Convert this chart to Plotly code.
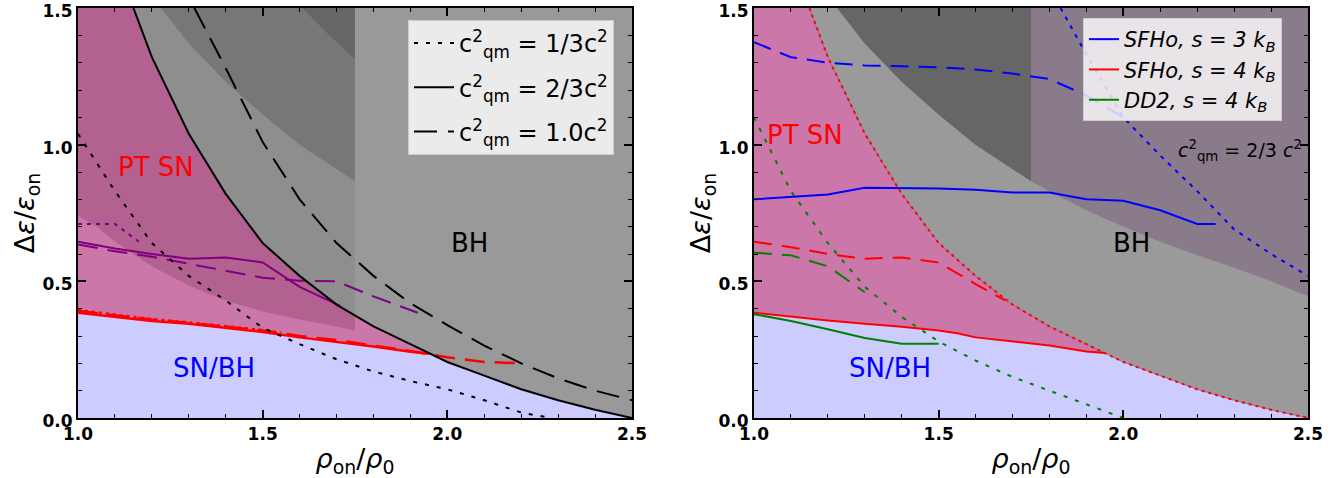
import plotly.graph_objects as go
import numpy as np

# ---------------- data ----------------
# BH boundaries for different quark-matter sound speeds
x_c13 = [1.0, 1.1, 1.2, 1.3, 1.4, 1.5, 1.6, 1.7, 1.8, 1.9, 2.0, 2.1, 2.2, 2.28]
y_c13 = [1.04, 0.83, 0.64, 0.52, 0.43, 0.33, 0.27, 0.215, 0.17, 0.135, 0.105, 0.065, 0.02, 0.0]
x_c23 = [1.15, 1.2, 1.3, 1.4, 1.5, 1.6, 1.7, 1.8, 1.9, 2.0, 2.1, 2.2, 2.3, 2.4, 2.5]
y_c23 = [1.5, 1.32, 1.04, 0.82, 0.64, 0.52, 0.415, 0.335, 0.27, 0.205, 0.155, 0.105, 0.065, 0.03, 0.0]
x_c10 = [1.315, 1.4, 1.5, 1.6, 1.7, 1.8, 1.9, 2.0, 2.1, 2.2, 2.3, 2.4, 2.5]
y_c10 = [1.5, 1.28, 1.01, 0.80, 0.64, 0.52, 0.42, 0.34, 0.265, 0.20, 0.145, 0.10, 0.065]

# shaded-region boundaries
x_ovl = [1.0, 1.05, 1.1, 1.2, 1.3, 1.4, 1.5, 1.6, 1.7, 1.75]
y_ovl = [0.74, 0.70, 0.645, 0.555, 0.485, 0.43, 0.39, 0.36, 0.335, 0.32]
x_band = [1.225, 1.3, 1.4, 1.5, 1.6, 1.7, 1.75, 1.8, 1.9, 2.0, 2.1, 2.2, 2.3, 2.4, 2.5]
y_band = [1.5, 1.37, 1.23, 1.11, 1.0, 0.91, 0.866, 0.83, 0.76, 0.70, 0.645, 0.595, 0.55, 0.50, 0.445]
x_dark = [1.607, 1.68, 1.75]
y_dark = [1.5, 1.40, 1.313]
X_CUT = 1.75

# left panel: SFHo lines
xl_red_solid = [1.0, 1.1, 1.2, 1.3, 1.4, 1.5, 1.6, 1.7, 1.8, 1.9, 1.95]
yl_red_solid = [0.385, 0.37, 0.355, 0.345, 0.33, 0.315, 0.295, 0.278, 0.262, 0.242, 0.235]
xl_red_dash = [1.0, 1.1, 1.2, 1.3, 1.4, 1.5, 1.6, 1.7, 1.8, 1.9, 2.0, 2.1, 2.2]
yl_red_dash = [0.392, 0.375, 0.36, 0.348, 0.335, 0.32, 0.30, 0.285, 0.265, 0.245, 0.222, 0.205, 0.20]
xl_red_dot = [1.0, 1.1, 1.2, 1.3, 1.4, 1.5, 1.55]
yl_red_dot = [0.395, 0.378, 0.362, 0.35, 0.337, 0.322, 0.312]
xl_pur_solid = [1.0, 1.1, 1.2, 1.3, 1.4, 1.5, 1.6, 1.71]
yl_pur_solid = [0.645, 0.62, 0.60, 0.583, 0.587, 0.569, 0.48, 0.41]
xl_pur_dash = [1.0, 1.1, 1.2, 1.3, 1.4, 1.5, 1.6, 1.7, 1.8, 1.9, 1.92]
yl_pur_dash = [0.635, 0.61, 0.59, 0.565, 0.54, 0.513, 0.502, 0.50, 0.445, 0.395, 0.385]
xl_pur_dot = [1.0, 1.1, 1.17]
yl_pur_dot = [0.71, 0.71, 0.64]

# right panel
xr_red_solid = [1.0, 1.1, 1.2, 1.3, 1.4, 1.5, 1.55, 1.6, 1.7, 1.8, 1.9, 1.95]
yr_red_solid = [0.385, 0.37, 0.357, 0.345, 0.334, 0.32, 0.31, 0.295, 0.28, 0.265, 0.243, 0.238]
xr_red_dash = [1.0, 1.1, 1.2, 1.3, 1.4, 1.5, 1.6, 1.68]
yr_red_dash = [0.645, 0.625, 0.60, 0.583, 0.587, 0.569, 0.49, 0.43]
xr_blue_solid = [1.0, 1.1, 1.2, 1.3, 1.4, 1.5, 1.6, 1.7, 1.8, 1.9, 2.0, 2.1, 2.2, 2.25]
yr_blue_solid = [0.80, 0.81, 0.818, 0.842, 0.842, 0.84, 0.835, 0.825, 0.825, 0.80, 0.795, 0.76, 0.71, 0.71]
xr_blue_dash = [1.0, 1.1, 1.2, 1.3, 1.4, 1.5, 1.6, 1.7, 1.8, 1.9, 2.0]
yr_blue_dash = [1.375, 1.32, 1.30, 1.29, 1.287, 1.283, 1.275, 1.26, 1.24, 1.18, 1.10]
xr_blue_dot = [1.83, 1.9, 2.0, 2.1, 2.2, 2.3, 2.4, 2.5]
yr_blue_dot = [1.5, 1.33, 1.10, 0.96, 0.83, 0.69, 0.60, 0.52]
xr_green_solid = [1.0, 1.1, 1.2, 1.3, 1.4, 1.5]
yr_green_solid = [0.38, 0.355, 0.325, 0.293, 0.272, 0.272]
xr_green_dash = [1.0, 1.1, 1.2, 1.3]
yr_green_dash = [0.605, 0.595, 0.555, 0.46]
xr_green_dot = [1.0, 1.1, 1.2, 1.3, 1.4, 1.5, 1.6, 1.7, 1.8, 1.9, 2.0]
yr_green_dot = [1.10, 0.83, 0.64, 0.48, 0.37, 0.28, 0.21, 0.15, 0.10, 0.05, 0.0]

legend_left = ["c<sup>2</sup><sub>qm</sub> = 1/3c<sup>2</sup>",
               "c<sup>2</sup><sub>qm</sub> = 2/3c<sup>2</sup>",
               "c<sup>2</sup><sub>qm</sub> = 1.0c<sup>2</sup>"]
legend_right = ["SFHo, s = 3 k<sub>B</sub>", "SFHo, s = 4 k<sub>B</sub>", "DD2, s = 4 k<sub>B</sub>"]
tick_vals = [0.0, 0.5, 1.0, 1.5, 2.0, 2.5]
tick_text = ["0.0", "0.5", "1.0", "1.5", "2.0", "2.5"]

XMIN, XMAX, YMIN, YMAX = 1.0, 2.5, 0.0, 1.5

# ---------------- colours ----------------
LAV = "rgb(204,204,255)"
PINK = "rgb(204,119,170)"
MAG = "rgb(178,97,145)"
GRAY = "rgb(153,153,153)"
GRAY_L2 = "rgb(142,142,142)"
GRAY_D = "rgb(119,119,119)"
GRAY_DD = "rgb(102,102,102)"
PGRAY = "rgb(138,123,138)"

fig = go.Figure()


def poly(xs, ys, color, xa, ya):
    fig.add_trace(go.Scatter(x=xs, y=ys, fill="toself", fillcolor=color, mode="lines",
                             line=dict(width=0, color=color), hoverinfo="skip",
                             showlegend=False, xaxis=xa, yaxis=ya))


def above(xc, yc, xcut=None):
    xc = np.array(xc, float); yc = np.array(yc, float)
    if xcut is not None:
        m = xc <= xcut
        xs = list(xc[m]) + ([xcut] if xc[m][-1] < xcut else [])
        ys = list(yc[m]) + ([float(np.interp(xcut, xc, yc))] if xc[m][-1] < xcut else [])
        xr = xcut
    else:
        xs, ys, xr = list(xc), list(yc), XMAX
    return xs + [xr, xs[0]], ys + [YMAX, YMAX]


def line(xs, ys, color, width, dash, xa, ya, name=None, legend=None):
    fig.add_trace(go.Scatter(x=xs, y=ys, mode="lines", line=dict(color=color, width=width, dash=dash),
                             name=name, showlegend=name is not None, legend=legend,
                             legendgroup=name, hoverinfo="skip", xaxis=xa, yaxis=ya))


# ---------------- left panel regions ----------------
poly(xl_red_solid + [xl_red_solid[-1], XMIN], yl_red_solid + [YMAX, YMAX], PINK, "x", "y")
poly(x_ovl + [x_ovl[-1], XMIN], y_ovl + [YMAX, YMAX], MAG, "x", "y")
px, py = above(x_c23, y_c23); poly(px, py, GRAY, "x", "y")
px, py = above(x_c23, y_c23, X_CUT); poly(px, py, GRAY_L2, "x", "y")
px, py = above(x_band, y_band, X_CUT); poly(px, py, GRAY_D, "x", "y")
px, py = above(x_dark, y_dark, X_CUT); poly(px, py, GRAY_DD, "x", "y")

# left lines
line(xl_pur_dot, yl_pur_dot, "purple", 2, "4px,5px", "x", "y")
line(xl_pur_solid, yl_pur_solid, "purple", 2, "solid", "x", "y")
line(xl_pur_dash, yl_pur_dash, "purple", 2, "20px,10px", "x", "y")
line(xl_red_dot, yl_red_dot, "red", 2.5, "3px,4px", "x", "y")
line(xl_red_dash, yl_red_dash, "red", 2.5, "20px,10px", "x", "y")
line(xl_red_solid, yl_red_solid, "red", 2.5, "solid", "x", "y")
line(x_c13, y_c13, "black", 2, "4px,8px", "x", "y", legend_left[0], "legend")
line(x_c23, y_c23, "black", 2, "solid", "x", "y", legend_left[1], "legend")
line(x_c10, y_c10, "black", 2, "23px,11px", "x", "y", legend_left[2], "legend")

# ---------------- right panel regions ----------------
poly(xr_red_solid + [xr_red_solid[-1], XMIN], yr_red_solid + [YMAX, YMAX], PINK, "x2", "y2")
px, py = above(x_c23, y_c23); poly(px, py, "rgb(154,154,154)", "x2", "y2")
px, py = above(x_band, y_band); poly(px, py, PGRAY, "x2", "y2")
px, py = above(x_band, y_band, X_CUT); poly(px, py, GRAY_DD, "x2", "y2")

line(x_c23, y_c23, "rgba(140,100,150,0.8)", 1, "solid", "x2", "y2")
line(x_c23, y_c23, "red", 2, "3px,4px", "x2", "y2")
line(xr_blue_dot, yr_blue_dot, "blue", 2, "4px,6px", "x2", "y2")
line(xr_blue_dash, yr_blue_dash, "blue", 2, "18px,10px", "x2", "y2")
line(xr_red_dash, yr_red_dash, "red", 2, "18px,10px", "x2", "y2")
line(xr_green_dot, yr_green_dot, "green", 2, "4px,8px", "x2", "y2")
line(xr_green_dash, yr_green_dash, "green", 2, "18px,10px", "x2", "y2")
line(xr_blue_solid, yr_blue_solid, "blue", 2, "solid", "x2", "y2", legend_right[0], "legend2")
line(xr_red_solid, yr_red_solid, "red", 2, "solid", "x2", "y2", legend_right[1], "legend2")
line(xr_green_solid, yr_green_solid, "green", 2, "solid", "x2", "y2", legend_right[2], "legend2")

# ---------------- layout ----------------
W, H = 1344, 478
ML, MR, MT, MB = 78, 36, 8, 60
pw = W - ML - MR
split0 = (632 - ML) / pw
split1 = (754 - ML) / pw

tickfont = dict(family="DejaVu Sans", size=17, color="black", weight="bold")
axcommon = dict(showline=True, linewidth=2, linecolor="black", mirror="allticks",
                ticks="inside", ticklen=8, tickwidth=2, tickcolor="black",
                minor=dict(dtick=0.1, tick0=0, ticks="inside", ticklen=4, tickwidth=1, tickcolor="black"),
                showgrid=False, zeroline=False, tickfont=tickfont,
                tickmode="array", tickvals=tick_vals, ticktext=tick_text,
                ticklabeloverflow="allow", automargin=False)
xtitle = dict(text="<i>ρ</i><sub>on</sub>/<i>ρ</i><sub>0</sub>", font=dict(size=27, color="black"), standoff=10)
ytitle = dict(text="Δ<i>ε</i>/<i>ε</i><sub>on</sub>", font=dict(size=27, color="black"), standoff=0)

fig.update_layout(
    width=W, height=H, margin=dict(l=ML, r=MR, t=MT, b=MB),
    paper_bgcolor="white", plot_bgcolor=LAV,
    font=dict(family="DejaVu Sans", color="black"),
    xaxis=dict(domain=[0, split0], range=[XMIN, XMAX], anchor="y", title=xtitle, **axcommon),
    yaxis=dict(domain=[0, 1], range=[YMIN, YMAX], anchor="x", title=ytitle, ticklabelshift=3, **axcommon),
    xaxis2=dict(domain=[split1, 1], range=[XMIN, XMAX], anchor="y2", title=xtitle, **axcommon),
    yaxis2=dict(domain=[0, 1], range=[YMIN, YMAX], anchor="x2", title=ytitle, ticklabelshift=3, **axcommon),
    legend=dict(x=(408 - ML) / pw, y=(H - MB - 20) / (H - MT - MB), xanchor="left", yanchor="top",
                bgcolor="rgba(255,255,255,0.8)", bordercolor="rgb(204,204,204)", borderwidth=1,
                font=dict(size=24, color="black"), tracegroupgap=10, itemwidth=40),
    legend2=dict(x=(1083 - ML) / pw, y=(H - MB - 18) / (H - MT - MB), xanchor="left", yanchor="top",
                 bgcolor="rgba(255,255,255,0.8)", bordercolor="rgb(204,204,204)", borderwidth=1,
                 font=dict(size=21, color="black", style="italic"), tracegroupgap=0),
)

ann = [
    ("PT SN", 1.21, 0.917, "red", "x", "y", 26),
    ("SN/BH", 1.368, 0.183, "blue", "x", "y", 26),
    ("BH", 2.06, 0.64, "black", "x", "y", 26),
    ("PT SN", 1.139, 1.034, "red", "x2", "y2", 26),
    ("SN/BH", 1.367, 0.183, "blue", "x2", "y2", 26),
    ("BH", 2.022, 0.64, "black", "x2", "y2", 26),
    ("<i>c</i><sup>2</sup><sub>qm</sub> = 2/3 <i>c</i><sup>2</sup>", 2.315, 0.98, "black", "x2", "y2", 19),
]
for t, x, y, c, xr, yr, s in ann:
    fig.add_annotation(text=t, x=x, y=y, xref=xr, yref=yr, showarrow=False,
                       font=dict(size=s, color=c, family="DejaVu Sans"))

fig.write_html("out.html")
